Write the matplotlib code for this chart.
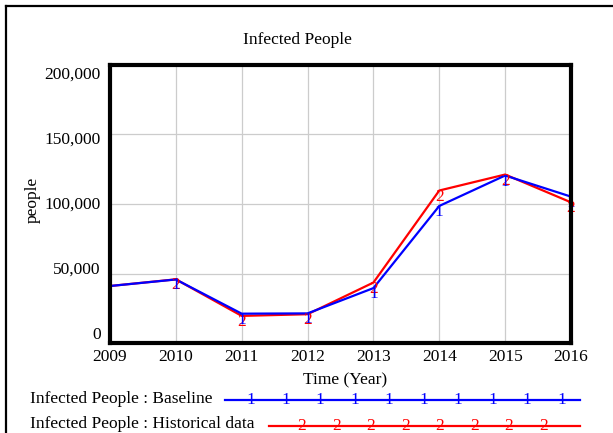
import numpy as np
import matplotlib
matplotlib.use("Agg")
import matplotlib.pyplot as plt
from matplotlib.lines import Line2D
import matplotlib.transforms as mtrans

plt.rcParams['font.family'] = ['Liberation Serif', 'DejaVu Serif']

# data
years = [2009, 2010, 2011, 2012, 2013, 2014, 2015, 2016]
baseline = [41000, 45700, 21100, 21300, 39500, 98600, 120500, 105300]
historical = [41000, 45800, 19500, 20700, 43500, 109700, 121200, 101200]
yticks = [0, 50000, 100000, 150000, 200000]
ytick_labels = ["0", "50,000", "100,000", "150,000", "200,000"]

W, H = 613, 433
fs = 12.5
fig = plt.figure(figsize=(W / 100, H / 100), dpi=100)
ax = fig.add_axes([110 / W, 1 - 343 / H, 461 / W, 278 / H])

red = "#ff0000"
blue = "#0000ff"
ax.plot(years, historical, color=red, lw=1.6, zorder=3)
ax.plot(years, baseline, color=blue, lw=1.6, zorder=4)

# numbered point markers (vensim style)
off = mtrans.offset_copy(ax.transData, fig=fig, x=0, y=2, units='dots')
for x, y in zip(years[1:], historical[1:]):
    ax.text(x, y, "2", color=red, fontsize=fs, ha='center', va='top',
            transform=off, zorder=5)
for x, y in zip(years[1:], baseline[1:]):
    ax.text(x, y, "1", color=blue, fontsize=fs, ha='center', va='top',
            transform=off, zorder=6)

ax.set_xlim(2009, 2016)
ax.set_ylim(0, 200000)
ax.set_xticks(years)
ax.set_xticklabels([str(y) for y in years], fontsize=fs)
ax.set_yticks(yticks)
ax.set_yticklabels([])
ax.tick_params(length=0, pad=4)
ax.grid(True, color="#cccccc", lw=0.9)
for s in ax.spines.values():
    s.set_linewidth(3)
    s.set_color("black")
    s.set_zorder(7)

# y labels are spread a little inside the grid, like the original
blend = mtrans.blended_transform_factory(ax.transAxes, ax.transData)
for i, lab in enumerate(ytick_labels):
    ypos = 5800 + yticks[i] * 0.938
    ax.text(-0.02, ypos, lab, fontsize=fs, ha='right', va='center',
            transform=blend)

fig.text(297 / W, 1 - 40 / H, "Infected People", fontsize=fs, ha='center', va='center')
fig.text(33 / W, 1 - 200 / H, "people", fontsize=fs, rotation=90, ha='center', va='center')
fig.text(345 / W, 1 - 380 / H, "Time (Year)", fontsize=fs, ha='center', va='center')

# legend
fig.text(30 / W, 1 - 399 / H, "Infected People : Baseline", fontsize=fs, ha='left', va='center')
fig.text(30 / W, 1 - 424 / H, "Infected People : Historical data", fontsize=fs, ha='left', va='center')
fig.add_artist(Line2D([225 / W, 580 / W], [1 - 400 / H, 1 - 400 / H], color=blue, lw=1.6))
fig.add_artist(Line2D([269 / W, 580 / W], [1 - 426 / H, 1 - 426 / H], color=red, lw=1.6))
for xp in 251 + 34.5 * np.arange(10):
    fig.text(xp / W, 1 - 400 / H, "1", color=blue, fontsize=fs, ha='center', va='center')
for xp in 302 + 34.5 * np.arange(8):
    fig.text(xp / W, 1 - 426 / H, "2", color=red, fontsize=fs, ha='center', va='center')

# outer frame (left and top only)
fig.add_artist(Line2D([6 / W, 6 / W], [0, 1 - 6 / H], color="black", lw=1.6))
fig.add_artist(Line2D([6 / W, 1], [1 - 6 / H, 1 - 6 / H], color="black", lw=1.6))

fig.savefig("out.png", dpi=100)
